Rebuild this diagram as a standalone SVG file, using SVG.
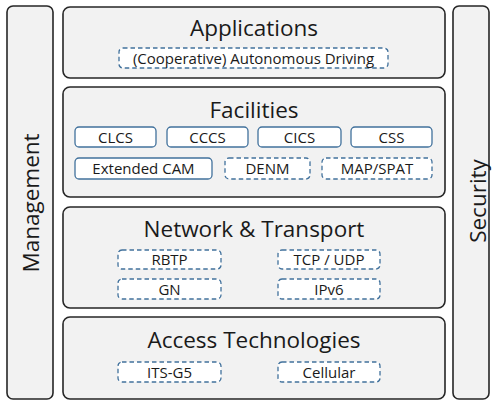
<svg xmlns="http://www.w3.org/2000/svg" width="495" height="403" viewBox="0 0 495 403">
<style>
.layer{fill:#f2f2f2;stroke:#262626;stroke-width:1.6}
.box{fill:#ffffff;stroke:#41719c;stroke-width:1.3}
.dash{fill:#ffffff;stroke:#41719c;stroke-width:1.3;stroke-dasharray:4.5 3}
.title{font-family:"Open Sans","Liberation Sans",sans-serif;font-size:22.5px;fill:#1a1a1a;text-anchor:middle}
.lbl{font-family:"Open Sans","Liberation Sans",sans-serif;font-size:15px;fill:#1a1a1a;text-anchor:middle}
</style>
<rect width="495" height="403" fill="#ffffff"/>
<g id="management">
<rect class="layer" x="7" y="6" width="46" height="393" rx="6"/>
<text class="title" transform="translate(39 203) rotate(-90)">Management</text>
</g>
<g id="security">
<rect class="layer" x="453" y="6" width="36" height="393" rx="6"/>
<text class="title" transform="translate(486 201) rotate(-90)">Security</text>
</g>
<g id="applications">
<rect class="layer" x="63" y="7" width="382" height="71" rx="7"/>
<text class="title" x="254" y="36">Applications</text>
<g id="cad"><rect class="dash" x="119" y="48" width="269" height="20" rx="4"/><text class="lbl" x="253.5" y="63.5">(Cooperative) Autonomous Driving</text></g>
</g>
<g id="facilities">
<rect class="layer" x="63" y="87" width="382" height="110" rx="7"/>
<text class="title" x="254" y="118">Facilities</text>
<g id="clcs"><rect class="box" x="75" y="127" width="81" height="20" rx="4"/><text class="lbl" x="115.5" y="142.5">CLCS</text></g>
<g id="cccs"><rect class="box" x="167" y="127" width="81" height="20" rx="4"/><text class="lbl" x="207.5" y="142.5">CCCS</text></g>
<g id="cics"><rect class="box" x="258" y="127" width="83" height="20" rx="4"/><text class="lbl" x="299.5" y="142.5">CICS</text></g>
<g id="css"><rect class="box" x="351" y="127" width="81" height="20" rx="4"/><text class="lbl" x="391.5" y="142.5">CSS</text></g>
<g id="ecam"><rect class="box" x="75" y="158" width="137" height="21" rx="4"/><text class="lbl" x="143.5" y="174">Extended CAM</text></g>
<g id="denm"><rect class="dash" x="225" y="158" width="85" height="21" rx="4"/><text class="lbl" x="267.5" y="174">DENM</text></g>
<g id="mapspat"><rect class="dash" x="322" y="158" width="110" height="21" rx="4"/><text class="lbl" x="377" y="174">MAP/SPAT</text></g>
</g>
<g id="network">
<rect class="layer" x="63" y="207" width="382" height="101" rx="7"/>
<text class="title" x="254" y="237">Network &amp; Transport</text>
<g id="rbtp"><rect class="dash" x="118" y="250" width="103" height="19" rx="4"/><text class="lbl" x="169.5" y="265">RBTP</text></g>
<g id="tcpudp"><rect class="dash" x="278" y="250" width="102" height="19" rx="4"/><text class="lbl" x="329" y="265">TCP / UDP</text></g>
<g id="gn"><rect class="dash" x="118" y="279" width="103" height="20" rx="4"/><text class="lbl" x="169.5" y="294.5">GN</text></g>
<g id="ipv6"><rect class="dash" x="278" y="279" width="102" height="20" rx="4"/><text class="lbl" x="329" y="294.5">IPv6</text></g>
</g>
<g id="access">
<rect class="layer" x="63" y="317" width="382" height="82" rx="7"/>
<text class="title" x="254" y="348">Access Technologies</text>
<g id="itsg5"><rect class="dash" x="118" y="362" width="103" height="20" rx="4"/><text class="lbl" x="169.5" y="377.5">ITS-G5</text></g>
<g id="cellular"><rect class="dash" x="278" y="362" width="102" height="20" rx="4"/><text class="lbl" x="329" y="377.5">Cellular</text></g>
</g>
<g id="connectors"></g>
</svg>
